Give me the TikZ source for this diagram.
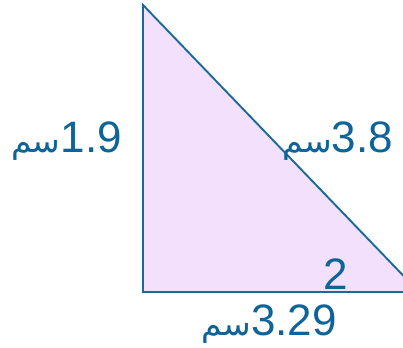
\documentclass[tikz,border=0pt]{standalone}
\usepackage{fontspec}
\setmainfont{Liberation Sans}
\newfontfamily\arabicfont[Script=Arabic]{DejaVu Sans}
\TeXXeTstate=1
\usepackage{tikz}
\definecolor{edgeblue}{HTML}{1A6A98}
\definecolor{lblblue}{HTML}{0E6499}
\definecolor{trifill}{HTML}{F2E0FC}

\begin{document}
\begin{tikzpicture}[
  x=1pt, y=-1pt,
  tri/.style={draw=edgeblue, fill=trifill, line width=1.9pt, line join=miter},
  lbl/.style={inner sep=0pt, text=lblblue, anchor=base east,
    font=\fontsize{44}{48}\selectfont}
]
\useasboundingbox (0,0) rectangle (403,347);

% --- Vertices of the triangle ---
\coordinate (apex)   at (143,5);
\coordinate (corner) at (143,292);
\coordinate (tip)    at (419,292);

% --- Triangle (right end cut by the frame) ---
\begin{scope}
  \clip (0,0) rectangle (403,347);
  \draw[tri] (apex) -- (corner) -- (tip) -- cycle;
\end{scope}

% --- Side lengths ---
\node[lbl] (left)   at (122,153) {{\arabicfont\fontsize{33}{40}\selectfont\beginR سم\endR}1.9};
\node[lbl] (hyp)    at (393,153) {{\arabicfont\fontsize{33}{40}\selectfont\beginR سم\endR}3.8};
\node[lbl] (bottom) at (337,335) {{\arabicfont\fontsize{33}{40}\selectfont\beginR سم\endR}3.29};

% --- Angle mark ---
\node[lbl] (angle) at (348,289) {2};

\end{tikzpicture}
\end{document}
